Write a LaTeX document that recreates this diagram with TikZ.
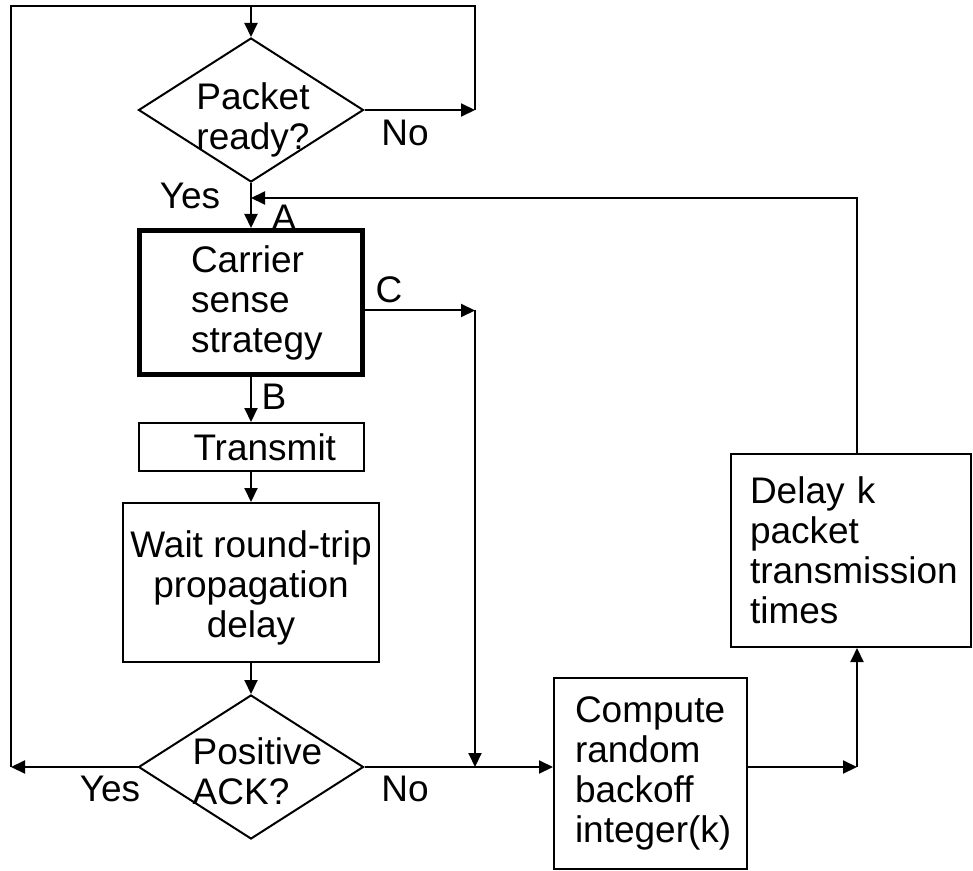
\documentclass[tikz,border=0pt]{standalone}
\usepackage{fontspec}
\setmainfont{Liberation Sans}
\usepackage{tikz}
\usetikzlibrary{arrows.meta}
\usetikzlibrary{shapes.geometric}
\hyphenpenalty=10000
\tikzstyle{flowhead}=[>/.tip={Triangle[length=7pt,width=6.5pt]}]
\tikzstyle{fl}=[line width=1pt,flowhead,->]
\tikzstyle{ln}=[line width=1pt]
\tikzstyle{blk}=[draw,line width=1pt,inner ysep=0pt]
\tikzstyle{choice}=[draw,diamond,line width=1pt,inner sep=0pt,minimum width=112.5pt,minimum height=72pt]
\tikzstyle{txt}=[align=left,inner sep=0pt]
\tikzstyle{lbl}=[inner sep=0pt]

\begin{document}
\begin{tikzpicture}[x=0.5pt,y=-0.5pt,font=\fontsize{18.5}{20}\selectfont]
	\useasboundingbox (0,0) rectangle (973,871);
	% decisions
	\node[choice] (ready) at (251,110) {};
	\node[txt] (readytxt) at (253,120) {Packet\\ready?};
	\node[choice] (ack) at (251,767) {};
	\node[txt] (acktxt) at (257.5,771.5) {Positive\\ACK?};
	% blocks
	\node[blk,line width=2.5pt,minimum height=72pt,inner xsep=25.75pt,text width=60pt,align=left] (carrier) at (251,302.5) {Carrier\\sense\\strategy};
	\node[blk,minimum height=24pt,inner xsep=27.5pt,text width=57.5pt,align=left] (transmit) at (251,447) {Transmit};
	\node[blk,minimum width=128pt,minimum height=79.5pt,align=center,text height=58.5pt] (wait) at (251,582.5) {Wait round-trip\\propagation\\delay};
	\node[blk,minimum height=95.5pt,inner xsep=10.5pt,text width=75.5pt,align=left] (compute) at (650.5,773.5) {Compute\\random\\backoff\\integer(k)};
	\node[blk,minimum height=96.5pt,inner xsep=9.5pt,text width=101pt,align=left] (delay) at (851,550.5) {Delay k\\packet\\transmission\\times};
	% corners
	\coordinate (top) at (251,6);
	\coordinate (rdyno) at (475,110);
	\coordinate (ackyes) at (11,767);
	\coordinate (join) at (251,198);
	\coordinate (cjoin) at (475,310.5);
	\coordinate (backx) at (857,767);
	% connectors
	\draw[fl] (ready.east) -- (rdyno);
	\draw[ln] (rdyno) |- (top);
	\draw[fl] (ack.west) -- (ackyes);
	\draw[fl] (ackyes) |- (top) -- (ready.north);
	\draw[fl] (ready.south) -- (carrier.north);
	\draw[fl] (carrier.south) -- (transmit.north);
	\draw[fl] (transmit.south) -- (wait.north);
	\draw[fl] (wait.south) -- (ack.north);
	\draw[fl] (carrier.east |- cjoin) -- (cjoin);
	\draw[fl] (cjoin) -- (cjoin |- ack.east);
	\draw[fl] (ack.east) -- (compute.west |- ack.east);
	\draw[fl] (compute.east |- backx) -- (backx);
	\draw[fl] (backx) -- (delay.south -| backx);
	\draw[fl] (delay.north -| backx) |- (join);
	% labels
	\node[lbl] (no1) at (405,133) {No};
	\node[lbl] (yes1) at (190,196) {Yes};
	\node[lbl] (la) at (284,218) {A};
	\node[lbl] (lc) at (389,290) {C};
	\node[lbl] (lb) at (274,397) {B};
	\node[lbl] (yes2) at (110,789) {Yes};
	\node[lbl] (no2) at (405,789) {No};
\end{tikzpicture}
\end{document}
